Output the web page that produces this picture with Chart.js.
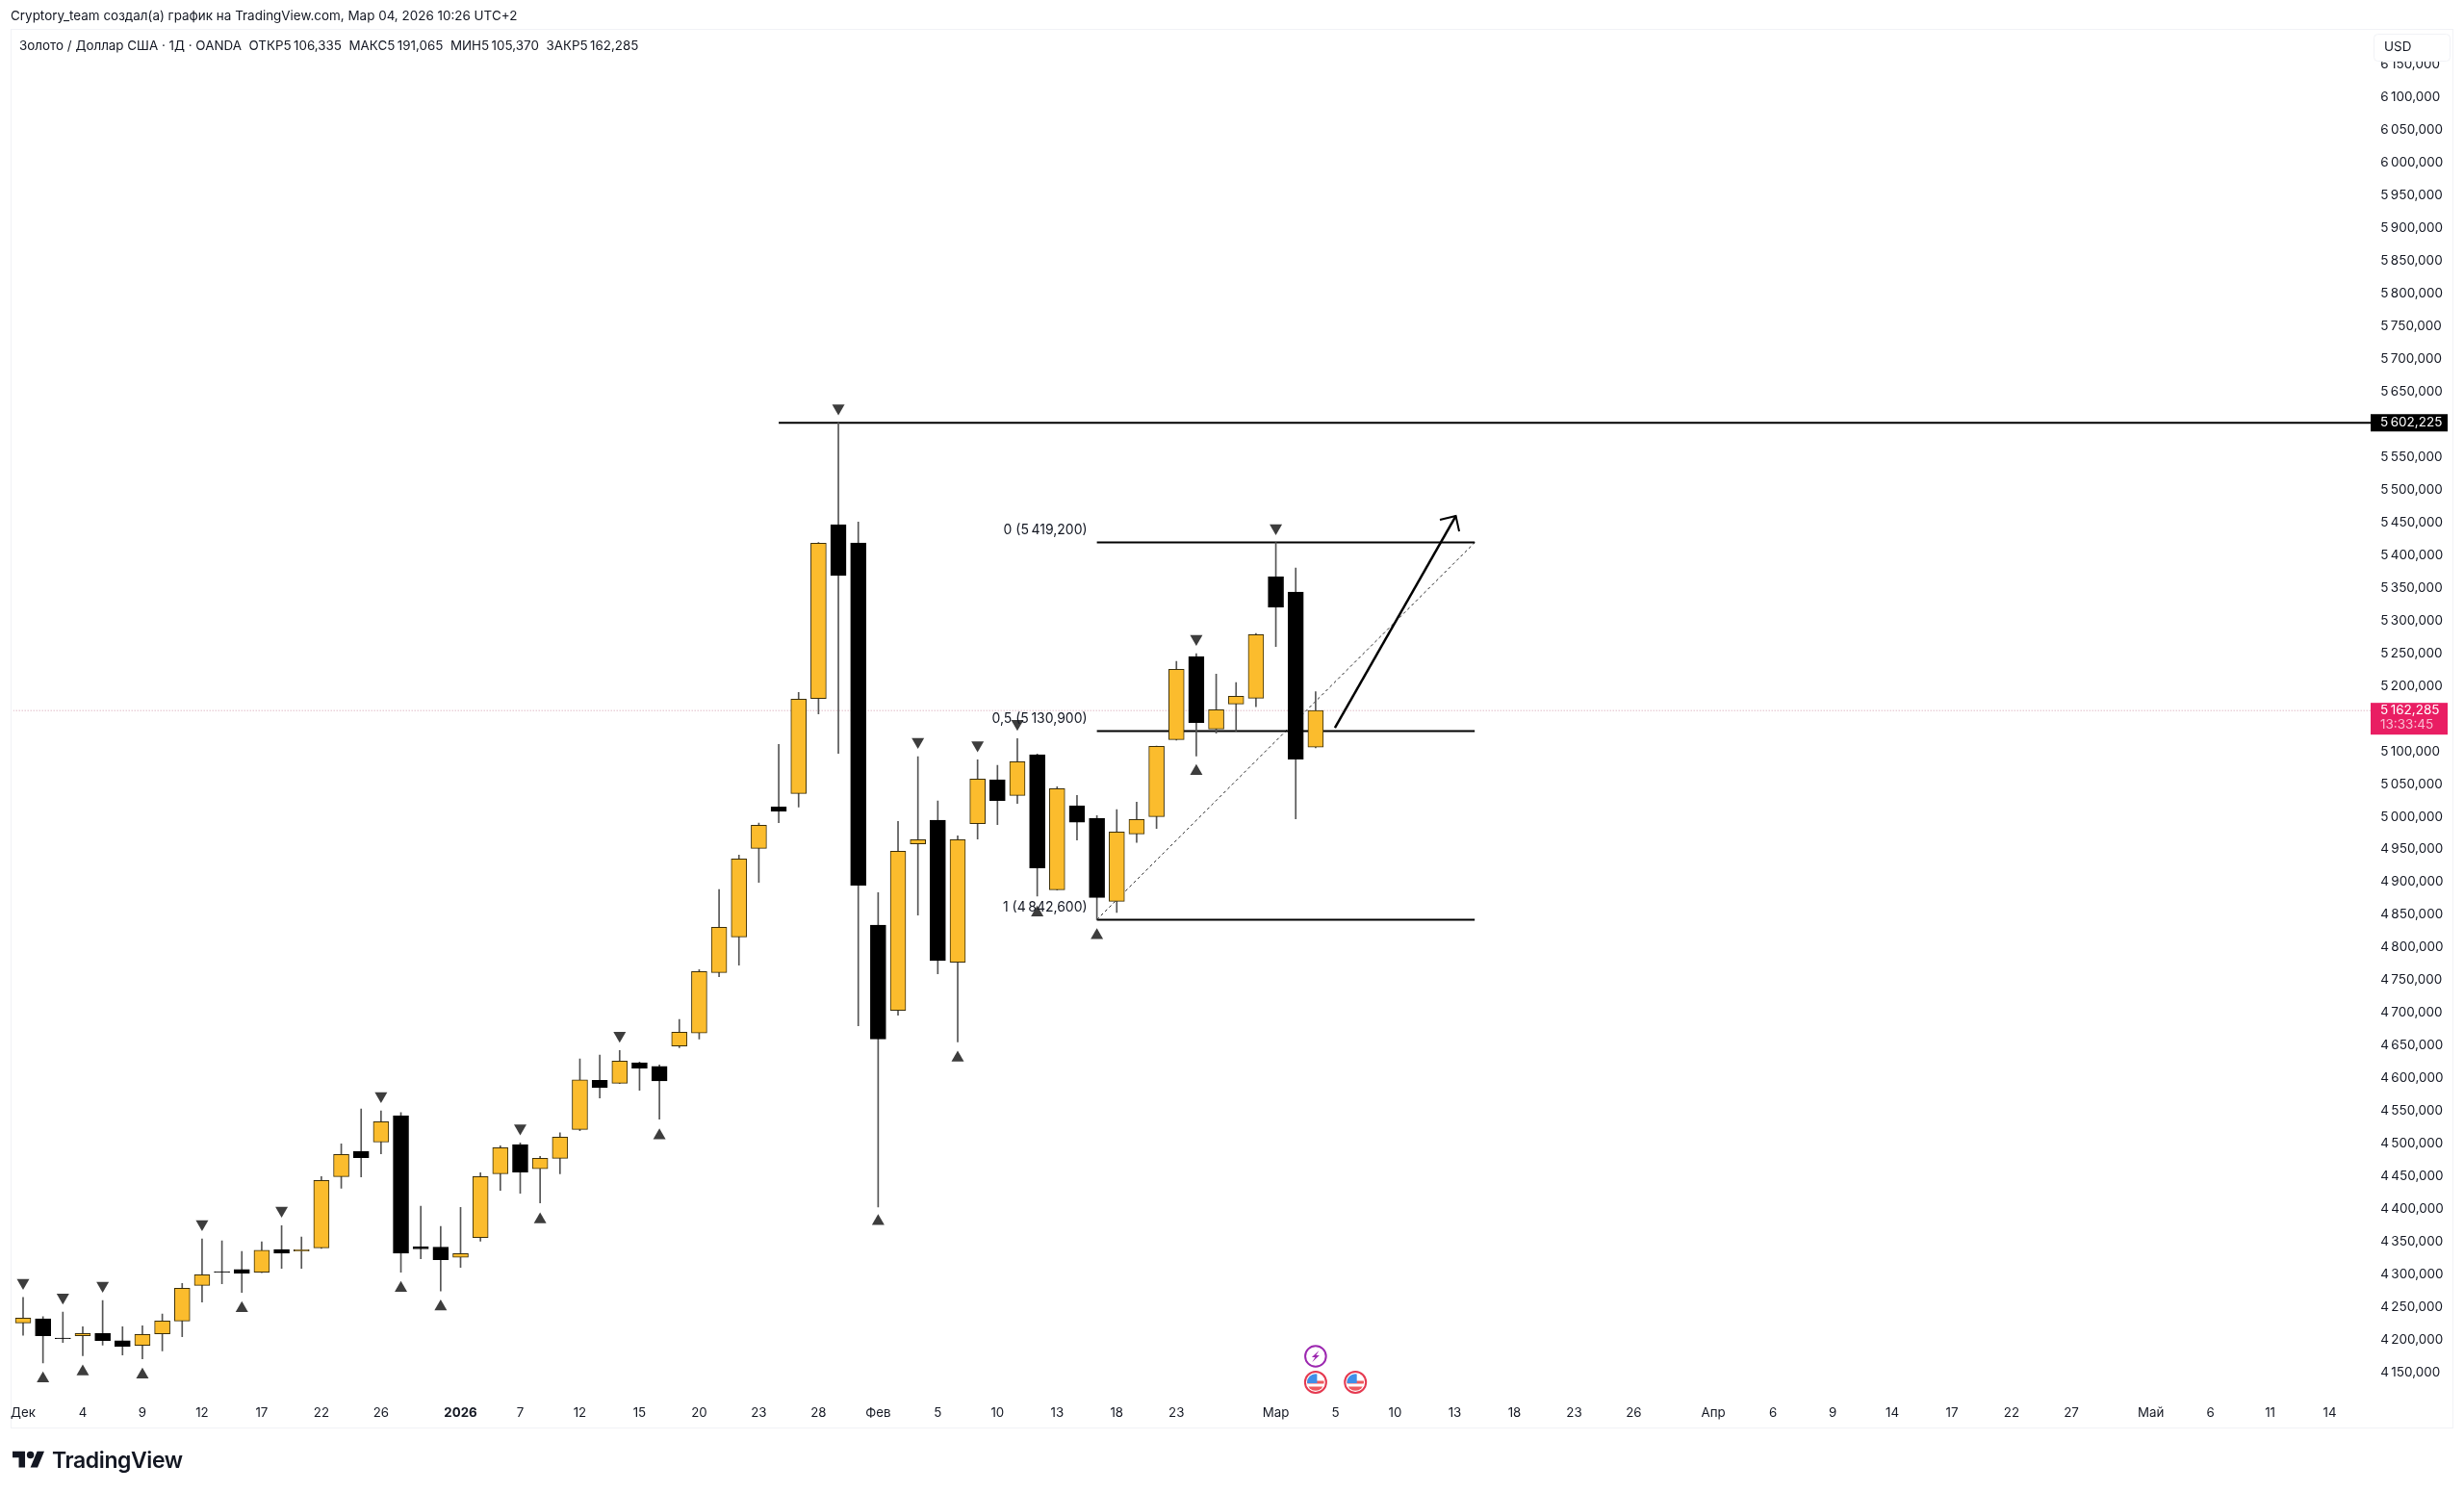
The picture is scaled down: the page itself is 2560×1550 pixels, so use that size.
<!DOCTYPE html>
<html lang="ru">
<head>
<meta charset="utf-8">
<title>XAU/USD</title>
<script src="https://cdn.jsdelivr.net/npm/chart.js@4/dist/chart.umd.js"></script>
<style>
	html, body { margin: 0; padding: 0; background: #fff; }
	body { width: 2560px; height: 1550px; position: relative; overflow: hidden; font-family: Inter, sans-serif; color: #131722; }
	canvas { display: block; position: absolute; left: 0; top: 0; }
	.txt { position: absolute; white-space: pre; z-index: 2; }
	#head { left: 11px; top: 8px; font-size: 13.45px; line-height: 17px; }
	#legend { left: 20px; top: 39px; font-size: 13.4px; line-height: 17px; }
	#logo { position: absolute; left: 13px; top: 1504px; width: 33.5px; height: 26px; z-index: 2; }
	#brand { left: 54px; top: 1502px; font-size: 23px; line-height: 30px; font-weight: 600; letter-spacing: -0.4px; }
</style>
</head>
<body>
<div class="txt" id="head">Cryptory_team создал(а) график на TradingView.com, Мар 04, 2026 10:26 UTC+2</div>
<div class="txt" id="legend">Золото / Доллар США · 1Д · OANDA  ОТКР5&#8201;106,335  МАКС5&#8201;191,065  МИН5&#8201;105,370  ЗАКР5&#8201;162,285</div>
<svg id="logo" viewBox="0 0 36 28"><path d="M14 22H7V11H0V4h14v18zM28 22h-8l7.5-18h8L28 22z" fill="#131722"/><circle cx="20" cy="8" r="4" fill="#131722"/></svg>
<div class="txt" id="brand">TradingView</div>
<canvas id="chart" width="2560" height="1550"></canvas>
<script>
const opens = [4226.1, 4232.4, 4203.0, 4206.4, 4209.9, 4199.0, 4191.6, 4209.3, 4229.0, 4283.5, 4304.5, 4307.9, 4303.5, 4338.4, 4335.9, 4340.9, 4449.8, 4488.5, 4502.5, 4542.9, 4342.4, 4341.8, 4326.2, 4356.5, 4454.2, 4498.8, 4461.6, 4477.7, 4521.9, 4597.0, 4592.5, 4623.9, 4618.4, 4649.3, 4669.1, 4761.8, 4816.2, 4951.6, 5014.9, 5035.5, 5180.6, 5446.6, 5418.6, 4834.3, 4703.8, 4958.4, 4994.8, 4777.4, 4989.3, 5056.6, 5032.6, 5094.8, 4888.3, 5016.8, 4997.7, 4870.7, 4973.7, 5000.2, 5117.9, 5244.9, 5134.1, 5172.4, 5181.2, 5367.1, 5343.5, 5106.335];
const highs = [4265.2, 4235.8, 4242.7, 4220.2, 4260.4, 4220.2, 4221.7, 4239.8, 4286.4, 4354.6, 4351.6, 4335.4, 4350.2, 4374.7, 4357.5, 4449.8, 4499.8, 4553.2, 4550.3, 4547.8, 4404.6, 4373.7, 4402.7, 4455.7, 4496.9, 4501.3, 4480.7, 4516.9, 4629.8, 4635.7, 4642.6, 4624.9, 4620.5, 4690.1, 4766.2, 4888.8, 4941.3, 4990.3, 5110.6, 5190.0, 5419.2, 5602.225, 5450.5, 4883.9, 4992.8, 5091.9, 5024.2, 4970.8, 5087.0, 5078.6, 5119.4, 5095.9, 5045.8, 5032.6, 5001.7, 5010.9, 5022.3, 5108.0, 5237.6, 5249.4, 5218.0, 5205.2, 5280.3, 5419.2, 5380.3, 5191.065];
const lows = [4207.0, 4164.7, 4196.1, 4176.0, 4192.2, 4176.9, 4171.0, 4183.4, 4204.9, 4257.9, 4285.8, 4272.6, 4303.0, 4309.4, 4309.4, 4340.0, 4432.1, 4449.2, 4484.5, 4303.5, 4324.1, 4274.7, 4310.9, 4351.2, 4428.6, 4424.2, 4409.5, 4454.2, 4520.0, 4569.9, 4592.0, 4581.6, 4537.5, 4647.0, 4660.2, 4755.3, 4773.0, 4899.5, 4990.8, 5014.9, 5157.1, 5096.7, 4680.3, 4403.1, 4696.4, 4849.5, 4759.7, 4655.8, 4965.8, 4987.8, 5020.2, 4878.5, 4888.0, 4964.3, 4842.6, 4853.5, 4960.5, 4981.9, 5117.0, 5092.9, 5127.7, 5131.2, 5168.0, 5260.1, 4996.7, 5105.37];
const closes = [4233.4, 4206.4, 4202.0, 4209.9, 4199.0, 4190.2, 4208.4, 4229.0, 4279.1, 4299.7, 4303.7, 4302.0, 4337.3, 4332.5, 4337.9, 4443.9, 4483.6, 4478.6, 4533.7, 4332.5, 4339.4, 4322.6, 4332.0, 4449.8, 4493.9, 4456.6, 4477.7, 4510.1, 4597.8, 4585.6, 4626.4, 4615.5, 4595.9, 4670.5, 4763.3, 4830.9, 4935.4, 4986.9, 5008.4, 5179.8, 5418.2, 5369.0, 4895.1, 4660.2, 4947.2, 4964.9, 4779.9, 4964.9, 5057.6, 5024.6, 5084.1, 4921.6, 5042.9, 4991.4, 4876.6, 4976.6, 4995.8, 5107.6, 5225.4, 5143.8, 5163.6, 5184.2, 5278.3, 5320.4, 5087.9, 5162.285];

const markDownIdx = [0, 2, 4, 9, 13, 18, 25, 30, 41, 45, 48, 50, 59, 63];
const markDownVal = [4287.7, 4265.2, 4283.3, 4377.5, 4398.1, 4573.3, 4523.7, 4665.5, 5624.5, 5114.8, 5109.4, 5142.4, 5272.3, 5441.6];
const markUpIdx = [1, 3, 6, 11, 19, 21, 26, 32, 43, 47, 51, 54, 59];
const markUpVal = [4140.7, 4151.6, 4146.6, 4248.2, 4279.1, 4250.7, 4384.1, 4512.6, 4381.6, 4631.4, 4853.0, 4818.7, 5069.4];

const xTickPos = [0, 3, 6, 9, 12, 15, 18, 22, 25, 28, 31, 34, 37, 40, 43, 46, 49, 52, 55, 58, 63, 66, 69, 72, 75, 78, 81, 85, 88, 91, 94, 97, 100, 103, 107, 110, 113, 116];
const xTickLabels = ['Дек', '4', '9', '12', '17', '22', '26', '2026', '7', '12', '15', '20', '23', '28', 'Фев', '5', '10', '13', '18', '23', 'Мар', '5', '10', '13', '18', '23', '26', 'Апр', '6', '9', '14', '17', '22', '27', 'Май', '6', '11', '14'];
const priceTicks = [4150, 4200, 4250, 4300, 4350, 4400, 4450, 4500, 4550, 4600, 4650, 4700, 4750, 4800, 4850, 4900, 4950, 5000, 5050, 5100, 5150, 5200, 5250, 5300, 5350, 5400, 5450, 5500, 5550, 5600, 5650, 5700, 5750, 5800, 5850, 5900, 5950, 6000, 6050, 6100, 6150];

const fibLevels = [5419.2, 5130.9, 4842.6];
const fibLabels = ['0 (5\u2009419,200)', '0,5 (5\u2009130,900)', '1 (4\u2009842,600)'];
const fibStart = 54;
const fibEnd = 73;
const highLevel = 5602.225;
const highStart = 38;
const lastClose = 5162.285;
const countdown = '13:33:45';
const arrowX = [65.97, 72.05];
const arrowY = [5136, 5459.8];
const arrowWingX = [71.25, 72.05, 72.22];
const arrowWingY = [5453.9, 5459.8, 5436.3];
const eventsFlash = [65];
const eventsFlag = [65, 67];

const xMin = -0.5;
const xMax = 118.5;
const yMin = 4114.7;
const yMax = 6204.5;

const ORANGE = '#fbbc2d';
const fontFamily = 'Inter, sans-serif';

const fmtPrice = (v) => {
	const s = v.toFixed(3).replace('.', ',');
	return s.slice(0, 1) + '\u2009' + s.slice(1);
};

const lineDs = (points, extra) => ({
	type: 'line',
	data: points,
	pointRadius: 0,
	borderColor: '#000',
	borderWidth: 2,
	fill: false,
	tension: 0,
	order: 3,
	...extra,
});

const marker = (idx, val, rotation) => ({
	type: 'line',
	data: idx.map((x, k) => ({ x, y: val[k] })),
	showLine: false,
	pointStyle: 'triangle',
	pointRadius: 7.5,
	pointRotation: rotation,
	pointBackgroundColor: '#3d3d3d',
	pointBorderWidth: 0,
	order: -1,
});

const overlay = {
	id: 'overlay',
	beforeDraw(chart) {
		const { ctx } = chart;
		ctx.save();
		ctx.strokeStyle = '#f1f2f6';
		ctx.lineWidth = 1;
		ctx.strokeRect(11.5, 30.5, 2537, 1453);
		ctx.restore();
	},
	afterDatasetsDraw(chart) {
		const { ctx, scales: { x, y } } = chart;
		ctx.save();
		ctx.font = '14px ' + fontFamily;
		ctx.fillStyle = '#131722';
		ctx.textAlign = 'right';
		ctx.textBaseline = 'middle';
		fibLevels.forEach((lvl, i) => {
			ctx.fillText(fibLabels[i], x.getPixelForValue(fibStart) - 10, y.getPixelForValue(lvl) - 13);
		});
		ctx.restore();
	},
	afterDraw(chart) {
		const { ctx, scales: { x, y } } = chart;
		ctx.save();
		ctx.textBaseline = 'middle';
		ctx.textAlign = 'left';

		// USD box hides the top of the 6 150 label
		ctx.fillStyle = '#fff';
		ctx.strokeStyle = '#f1f2f6';
		ctx.beginPath();
		ctx.roundRect(2466.5, 35.5, 79, 28, 4);
		ctx.fill();
		ctx.stroke();
		ctx.fillStyle = '#131722';
		ctx.font = '13.5px ' + fontFamily;
		ctx.fillText('USD', 2477, 49);

		// high level tag
		const hy = y.getPixelForValue(highLevel);
		ctx.fillStyle = '#000';
		ctx.fillRect(2463, hy - 9, 80, 18);
		ctx.fillStyle = '#fff';
		ctx.font = '13.5px ' + fontFamily;
		ctx.fillText(fmtPrice(highLevel), 2473, hy);

		// last price tag
		const ly = y.getPixelForValue(lastClose);
		ctx.fillStyle = '#e91e63';
		ctx.fillRect(2463, ly - 8, 80, 33);
		ctx.fillStyle = '#fff';
		ctx.fillText(fmtPrice(lastClose), 2473, ly);
		ctx.fillStyle = '#f9bcd1';
		ctx.fillText(countdown, 2473, ly + 15);

		eventsFlash.forEach((i) => drawFlash(ctx, x.getPixelForValue(i), 1409));
		eventsFlag.forEach((i) => drawFlag(ctx, x.getPixelForValue(i), 1436));
		ctx.restore();
	},
};

function drawFlash(ctx, cx, cy) {
	ctx.fillStyle = '#fff';
	ctx.strokeStyle = '#9c27b0';
	ctx.lineWidth = 2;
	ctx.beginPath();
	ctx.arc(cx, cy, 10.8, 0, Math.PI * 2);
	ctx.fill();
	ctx.stroke();
	ctx.fillStyle = '#9c27b0';
	ctx.beginPath();
	ctx.moveTo(cx + 3.5, cy - 6);
	ctx.lineTo(cx - 4, cy + 1);
	ctx.lineTo(cx - 0.5, cy + 1);
	ctx.lineTo(cx - 3.5, cy + 6);
	ctx.lineTo(cx + 4, cy - 1);
	ctx.lineTo(cx + 0.5, cy - 1);
	ctx.closePath();
	ctx.fill();
}

function drawFlag(ctx, cx, cy) {
	ctx.fillStyle = '#fff';
	ctx.strokeStyle = '#e53950';
	ctx.lineWidth = 2;
	ctx.beginPath();
	ctx.arc(cx, cy, 11, 0, Math.PI * 2);
	ctx.fill();
	ctx.stroke();
	ctx.save();
	ctx.beginPath();
	ctx.arc(cx, cy, 8.8, 0, Math.PI * 2);
	ctx.clip();
	ctx.fillStyle = '#ee5a5f';
	ctx.fillRect(cx - 9, cy - 1.5, 18, 3);
	ctx.fillRect(cx - 9, cy + 4.5, 18, 5);
	ctx.fillStyle = '#3f8fe8';
	ctx.fillRect(cx - 9, cy - 9, 10.5, 10);
	ctx.restore();
}

new Chart('chart', {
	type: 'bar',
	data: {
		datasets: [
			lineDs([{ x: xMin, y: lastClose }, { x: xMax, y: lastClose }], {
				borderColor: 'rgba(190,110,135,0.7)',
				borderWidth: 1,
				borderDash: [1, 2],
				order: 4,
			}),
			lineDs([{ x: highStart, y: highLevel }, { x: xMax, y: highLevel }]),
			...fibLevels.map((lvl) => lineDs([{ x: fibStart, y: lvl }, { x: fibEnd, y: lvl }])),
			lineDs([{ x: fibStart, y: fibLevels[2] }, { x: fibEnd, y: fibLevels[0] }], {
				borderColor: '#222',
				borderWidth: 1,
				borderDash: [3, 3],
			}),
			lineDs(arrowX.map((x, k) => ({ x, y: arrowY[k] })), { borderWidth: 2.5, order: -2 }),
			lineDs(arrowWingX.map((x, k) => ({ x, y: arrowWingY[k] })), { order: -2 }),
			{
				type: 'bar',
				data: highs.map((h, i) => ({ x: i, y: [lows[i], h] })),
				backgroundColor: '#555',
				borderWidth: 0,
				barThickness: 1,
				grouped: false,
				order: 2,
			},
			{
				type: 'bar',
				data: opens.map((o, i) => ({ x: i, y: [o, closes[i]] })),
				backgroundColor: opens.map((o, i) => (closes[i] >= o ? ORANGE : '#000')),
				borderColor: opens.map((o, i) => (closes[i] >= o ? '#3a2e0a' : '#000')),
				borderWidth: 1,
				borderSkipped: false,
				barThickness: 16,
				grouped: false,
				order: 1,
			},
			marker(markDownIdx, markDownVal, 180),
			marker(markUpIdx, markUpVal, 0),
		],
	},
	options: {
		responsive: false,
		animation: false,
		devicePixelRatio: 1,
		layout: { padding: { left: 13.67, top: 30, right: 11.83, bottom: 50 } },
		plugins: {
			legend: { display: false },
			title: { display: false },
			tooltip: { enabled: false },
		},
		scales: {
			x: {
				type: 'linear',
				offset: false,
				min: xMin,
				max: xMax,
				grid: { display: false, drawTicks: false },
				border: { display: false },
				afterBuildTicks: (scale) => {
					scale.ticks = xTickPos.map((value) => ({ value }));
				},
				afterFit: (scale) => {
					scale.height = 50;
				},
				ticks: {
					autoSkip: false,
					maxRotation: 0,
					padding: 10,
					color: '#131722',
					font: (ctx) => ({
						family: fontFamily,
						size: 13.3,
						weight: xTickLabels[ctx.index] === '2026' ? '700' : '400',
					}),
					callback: (v, i) => xTickLabels[i],
				},
			},
			y: {
				type: 'linear',
				position: 'right',
				min: yMin,
				max: yMax,
				grid: { display: false, drawTicks: false },
				border: { display: false },
				afterBuildTicks: (scale) => {
					scale.ticks = priceTicks.map((value) => ({ value }));
				},
				afterFit: (scale) => {
					scale.width = 76;
				},
				ticks: {
					autoSkip: false,
					padding: 1,
					color: '#131722',
					font: { family: fontFamily, size: 13.5 },
					callback: (v) => fmtPrice(v),
				},
			},
		},
	},
	plugins: [overlay],
});
</script>
</body>
</html>
